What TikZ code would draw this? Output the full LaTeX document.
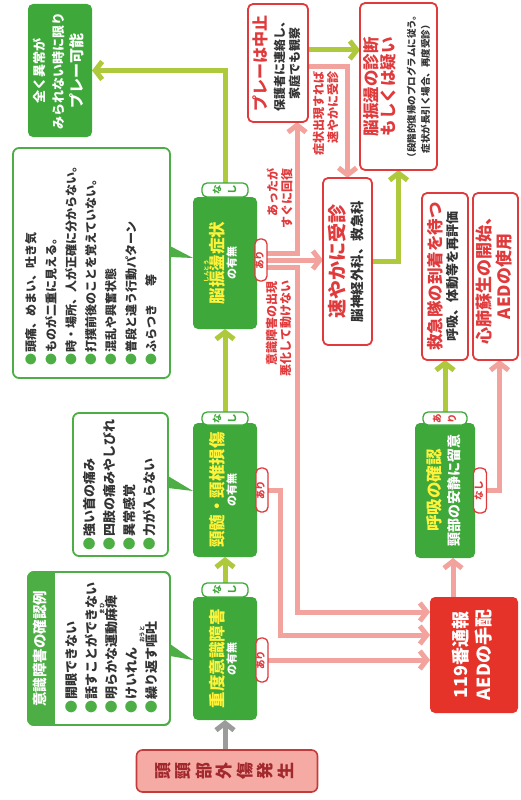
\documentclass[tikz,border=0pt]{standalone}
\usepackage{fontspec}
\setmainfont{Noto Sans CJK JP}
\usepackage{graphicx}
\usetikzlibrary{arrows.meta,calc}
\definecolor{cgreen}{HTML}{3EA83A}
\definecolor{cbul}{HTML}{4DAE45}
\definecolor{cyel}{HTML}{FFF23A}
\definecolor{clime}{HTML}{AEC93C}
\definecolor{cpink}{HTML}{F2A39D}
\definecolor{cred}{HTML}{E03A3C}
\definecolor{cdark}{HTML}{333333}
\definecolor{cgray}{HTML}{9B9B9B}
\definecolor{cfire}{HTML}{E63329}
\definecolor{cstartfill}{HTML}{F5AAA3}
\definecolor{cstartdraw}{HTML}{C43B3B}
\definecolor{cstarttext}{HTML}{A1282D}
\newcommand\RC[1]{\rotatebox{90}{\begin{tabular}{@{}c@{}}#1\end{tabular}}}
\newcommand\RL[1]{\rotatebox{90}{\begin{tabular}{@{}l@{}}#1\end{tabular}}}
\newcommand\RR[1]{\rotatebox{90}{\begin{tabular}{@{}r@{}}#1\end{tabular}}}
\newcommand\fs[2]{\fontsize{#1}{#2}\selectfont\bfseries}
\newcommand\bul{{\color{cbul}●}\hspace{1pt}}
\newcommand\rubyj[2]{\leavevmode\setbox0\hbox{#1}\rlap{\smash{\hbox to \wd0{\hss\raisebox{0.95em}{\fontsize{5.5}{6}\selectfont #2}\hss}}}#1}
\pgfdeclarelayer{bg}
\pgfsetlayers{bg,main}
\tikzset{
  box/.style={rectangle, rounded corners=5pt, inner sep=0pt, outer sep=0pt, line width=1.8pt},
  gbox/.style={box, fill=cgreen},
  rbox/.style={box, draw=cred, fill=white},
  cbox/.style={box, draw=cbul, fill=white, line width=1.8pt, rounded corners=6pt},
  firebox/.style={box, fill=cfire},
  startbox/.style={box, draw=cstartdraw, fill=cstartfill, line width=1.6pt, rounded corners=6pt},
  pillg/.style={rectangle, rounded corners=5pt, draw=cgreen, fill=white, line width=1.3pt, inner sep=0pt, outer sep=0pt},
  pillr/.style={pillg, draw=cred},
  txt/.style={inner sep=0pt, outer sep=0pt},
  lbl/.style={txt, text=cred, font=\fs{12}{13}},
  arr/.style={line width=5pt, -{Straight Barb[length=7pt,width=18pt]}},
  limearr/.style={arr, draw=clime},
  pinkarr/.style={arr, draw=cpink},
  grayarr/.style={arr, draw=cgray},
}
\begin{document}
\begin{tikzpicture}[x=1pt,y=-1pt,font=\bfseries]
\useasboundingbox (0,0) rectangle (520,800);

% start
\node[startbox, minimum width=181pt, minimum height=42pt, text=cstarttext, font=\fs{17}{20}] (start) at (227,771) {\RC{頭\\頸\\部\\外\\傷\\発\\生}};

% green decision boxes
\node[gbox, minimum width=64pt, minimum height=123pt, font=\fs{11}{14}] (g1) at (225,658.5)
  {\RC{{\fs{16.5}{18}\color{cyel}重度意識障害}\\[-2pt]{\color{white}の有無}}};
\node[gbox, minimum width=64pt, minimum height=134pt, font=\fs{11}{14}] (g2) at (225,490)
  {\RC{{\fs{16.5}{18}\color{cyel}頸髄・頸椎損傷}\\[-2pt]{\color{white}の有無}}};
\node[gbox, minimum width=64pt, minimum height=132pt, font=\fs{11}{14}] (g3) at (225,263)
  {\RC{{\fs{16.5}{18}\color{cyel}脳\rubyj{振盪}{しんとう}症状}\\[-2pt]{\color{white}の有無}}};
\node[gbox, minimum width=60pt, minimum height=135pt, font=\fs{14}{15}] (resp) at (445,490.5)
  {\RC{{\fs{16.5}{18}\color{cyel}呼吸の確認}\\[2pt]{\color{white}頸部の安静に留意}}};
\node[gbox, minimum width=64pt, minimum height=133pt, font=\fs{13}{19}, text=white] (play) at (60,70.5)
  {\RC{全く異常が\\みられない時に限り\\{\fs{15}{17}プレー可能}}};

% pills
\node[pillg, minimum width=46pt, minimum height=14pt, text=cgreen, font=\fs{9.5}{15}] (n1) at (225,590) {\RC{な\\し}};
\node[pillg, minimum width=46pt, minimum height=13pt, text=cgreen, font=\fs{9.5}{15}] (n2) at (225,418.5) {\RC{な\\し}};
\node[pillg, minimum width=46pt, minimum height=14pt, text=cgreen, font=\fs{9.5}{15}] (n3) at (225,190) {\RC{な\\し}};
\node[pillg, minimum width=44pt, minimum height=13pt, text=cred, font=\fs{9.5}{15}] (r4) at (445,418.5) {\RC{あ\\り}};
\node[pillr, minimum width=12pt, minimum height=44pt, text=cred, font=\fs{9.5}{11}] (a1) at (262,660) {\RC{あり}};
\node[pillr, minimum width=12pt, minimum height=44pt, text=cred, font=\fs{9.5}{11}] (a2) at (262,490) {\RC{あり}};
\node[pillr, minimum width=12pt, minimum height=42pt, text=cred, font=\fs{9.5}{11}] (a3) at (261,260) {\RC{あり}};
\node[pillr, minimum width=13pt, minimum height=45pt, text=cred, font=\fs{9.5}{11}] (n4) at (480,490.5) {\RC{なし}};

% red outlined boxes
\node[rbox, minimum width=60pt, minimum height=118pt, text=cdark, font=\fs{12}{15}] (stop) at (278,63)
  {\RC{{\fs{16}{18}\color{cred}プレーは中止}\\[3pt]保護者に連絡し、\\家庭でも観察}};
\node[rbox, minimum width=77pt, minimum height=167pt, text=cdark, font=\fs{9.5}{14}] (diag) at (398.5,86.5)
  {\RC{{\fs{16.5}{18}\color{cred}脳振盪の診断}\\[-2pt]{\fs{16.5}{18}\color{cred}もしくは疑い}\\[7pt]（段階的復帰のプログラムに従う。\\症状が長引く場合、再度受診）}};
\node[rbox, minimum width=49pt, minimum height=167pt, text=cdark, font=\fs{13.5}{15}] (visit) at (347.5,261.5)
  {\RC{{\fs{19}{20}\color{cred}速やかに受診}\\[1pt]脳神経外科、救急科}};
\node[rbox, minimum width=46pt, minimum height=167pt, text=cdark, font=\fs{13}{15}] (wait) at (445,276.5)
  {\RC{{\fs{16.5}{18}\color{cred}救急隊の到着を待つ}\\呼吸、体動等を再評価}};
\node[rbox, minimum width=45pt, minimum height=167pt, text=cred, font=\fs{17}{18}] (cpr) at (495.5,276.5)
  {\RC{心肺蘇生の開始、\\AEDの使用}};
\node[firebox, minimum width=88pt, minimum height=116pt, text=white, font=\fs{18}{23}] (call) at (474,655)
  {\RC{119番通報\\AEDの手配}};

% callouts
\node[cbox, minimum width=142pt, minimum height=153pt] (cb1) at (99,648.5) {};
\begin{scope}
  \clip[rounded corners=6pt] (cb1.north west) rectangle (cb1.south east);
  \fill[cbul] (cb1.north west) rectangle ($(cb1.south west)+(27,0)$);
\end{scope}
\draw[cbul, line width=1.8pt, rounded corners=6pt] (cb1.north west) rectangle (cb1.south east);
\node[txt, text=white, font=\fs{14.5}{16}] (cb1h) at (41.5,648.5) {\RC{意識障害の確認例}};
\node[txt, text=cdark, font=\fs{13}{20}] (cb1t) at (112.5,648)
  {\RL{\bul 開眼できない\\\bul 話すことができない\\\bul 明らかな運動\rubyj{麻痺}{まひ}\\\bul けいれん\\\bul 繰り返す\rubyj{嘔吐}{おうと}}};
\fill[cbul] (cb1.east |- 0,644) -- (g1.west |- 0,660) -- (cb1.east |- 0,656) -- cycle;

\node[cbox, minimum width=95pt, minimum height=143pt, text=cdark, font=\fs{13}{20}] (cb2) at (120.5,484.5)
  {\RL{\bul 強い首の痛み\\\bul 四肢の痛みやしびれ\\\bul 異常感覚\\\bul 力が入らない}};
\fill[cbul] (cb2.east |- 0,476) -- (g2.west |- 0,491) -- (cb2.east |- 0,488) -- cycle;

\node[cbox, minimum width=157pt, minimum height=230pt, text=cdark, font=\fs{12}{20}] (cb3) at (91.5,263)
  {\RL{\bul 頭痛、めまい、吐き気\\\bul ものが二重に見える。\\\bul 時・場所、人が正確に分からない。\\\bul 打撲前後のことを覚えていない。\\\bul 混乱や興奮状態\\\bul 普段と違う行動パターン\\\bul ふらつき\hspace{1.5em}等}};
\fill[cbul] (cb3.east |- 0,246) -- (g3.west |- 0,258) -- (cb3.east |- 0,257) -- cycle;

% labels
\node[lbl, anchor=north] (l1) at (281,168) {\RR{あったが\\すぐに回復}};
\node[lbl, anchor=north] (l2) at (280,281) {\RR{意識障害の出現\\悪化して動けない}};
\node[lbl, anchor=north] (l3) at (327,71) {\RR{症状出現すれば\\速やかに受診}};

% connectors
\begin{pgfonlayer}{bg}
\coordinate (jx) at (297,0);
\coordinate (b1) at (297,612);
\coordinate (b2) at (280,635);
\draw[grayarr] (start.north -| g1.south) -- (g1.south);
\draw[limearr] (n1.north) -- (g2.south);
\draw[limearr] (n2.north) -- (g3.south);
\draw[limearr] (n3.north) |- (play.east);
\draw[pinkarr] ([yshift=7pt]a3.east) -| (jx |- stop.south);
\draw[pinkarr] (a3.east) -- (a3.east -| visit.west);
\draw[pinkarr] ([yshift=-7pt]a3.east) -| (b1) -- (b1 -| call.west);
\draw[pinkarr] (a2.east) -| (b2) -- (b2 -| call.west);
\draw[pinkarr] (a1.east) -- (a1.east -| call.west);
\draw[pinkarr] ([xshift=-21pt]call.north) -- ([xshift=-21pt]call.north |- resp.south);
\draw[limearr] (r4.north) -- (wait.south);
\draw[pinkarr] (n4.east) -| ([xshift=4pt]cpr.south);
\draw[limearr] ([yshift=13pt]stop.east) -- ([yshift=13pt]stop.east -| diag.west);
\draw[pinkarr] ([yshift=-4pt]stop.east) -| (visit.north);
\draw[limearr] (visit.east) -| (diag.south);
\end{pgfonlayer}
\end{tikzpicture}
\end{document}
